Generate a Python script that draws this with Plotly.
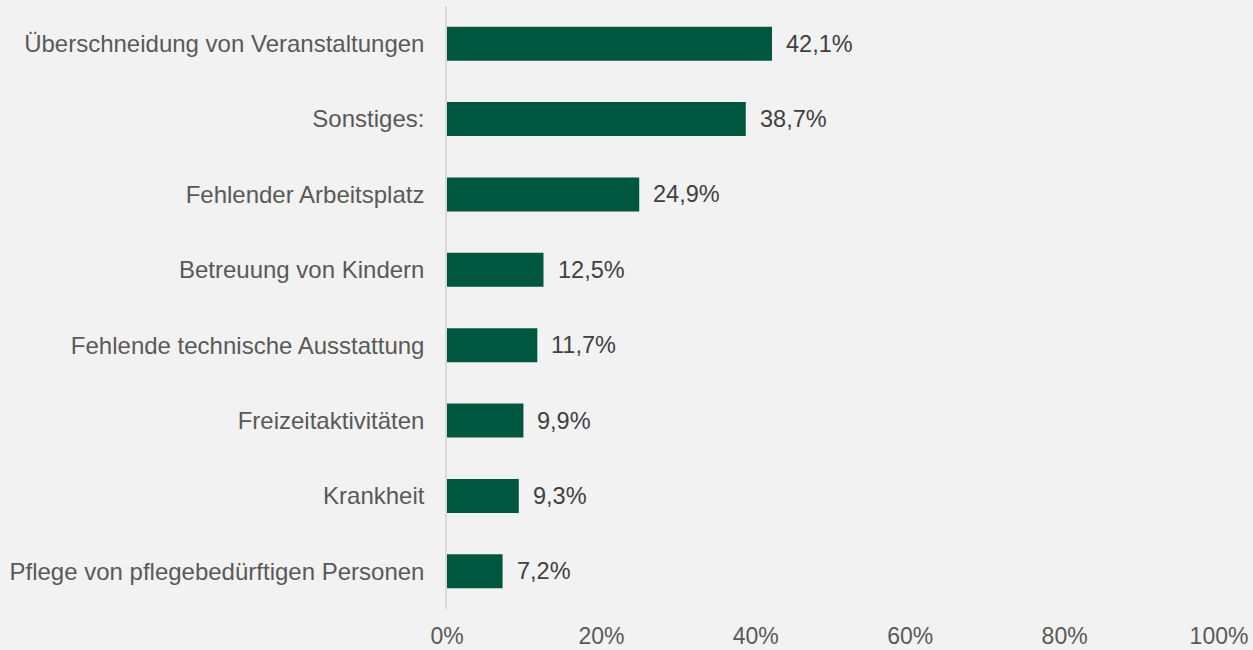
import plotly.graph_objects as go

categories = [
    "Überschneidung von Veranstaltungen",
    "Sonstiges:",
    "Fehlender Arbeitsplatz",
    "Betreuung von Kindern",
    "Fehlende technische Ausstattung",
    "Freizeitaktivitäten",
    "Krankheit",
    "Pflege von pflegebedürftigen Personen",
]
values = [0.421, 0.387, 0.249, 0.125, 0.117, 0.099, 0.093, 0.072]
value_labels = ["42,1%", "38,7%", "24,9%", "12,5%", "11,7%", "9,9%", "9,3%", "7,2%"]
x_tickvals = [0, 0.2, 0.4, 0.6, 0.8, 1.0]
x_ticktext = ["0%", "20%", "40%", "60%", "80%", "100%"]

FONT = "Liberation Sans, Arial, sans-serif"

fig = go.Figure()
fig.add_trace(go.Bar(
    x=values, y=categories, orientation="h",
    marker=dict(color="#00573F", line=dict(width=0)),
    hoverinfo="skip",
))

for c, v, t in zip(categories, values, value_labels):
    fig.add_annotation(x=v, y=c, text=t, showarrow=False, xanchor="left",
                       xshift=12, yshift=0,
                       font=dict(family=FONT, size=23.5, color="#404040"))

fig.update_layout(
    width=1253, height=650,
    margin=dict(l=447, r=34, t=6, b=41, autoexpand=False),
    paper_bgcolor="#F2F2F2", plot_bgcolor="#F2F2F2",
    bargap=0.55,
    showlegend=False,
    font=dict(family=FONT, size=23, color="#595959"),
)
fig.update_xaxes(
    range=[0, 1], tickvals=x_tickvals, ticktext=x_ticktext,
    showgrid=False, zeroline=False, showline=False, automargin=False,
    ticks="outside", ticklen=6, tickcolor="rgba(0,0,0,0)",
    tickfont=dict(family=FONT, size=23, color="#595959"),
)
fig.update_yaxes(
    categoryorder="array", categoryarray=categories, autorange="reversed",
    showgrid=False, zeroline=False, automargin=False,
    showline=True, linecolor="#D9D9D9", linewidth=1.5,
    ticks="outside", ticklen=16, tickcolor="rgba(0,0,0,0)",
    tickfont=dict(family=FONT, size=24, color="#595959"),
)

fig.write_html("out.html", config={"displayModeBar": False},
               post_script="document.body.style.margin='0';")
